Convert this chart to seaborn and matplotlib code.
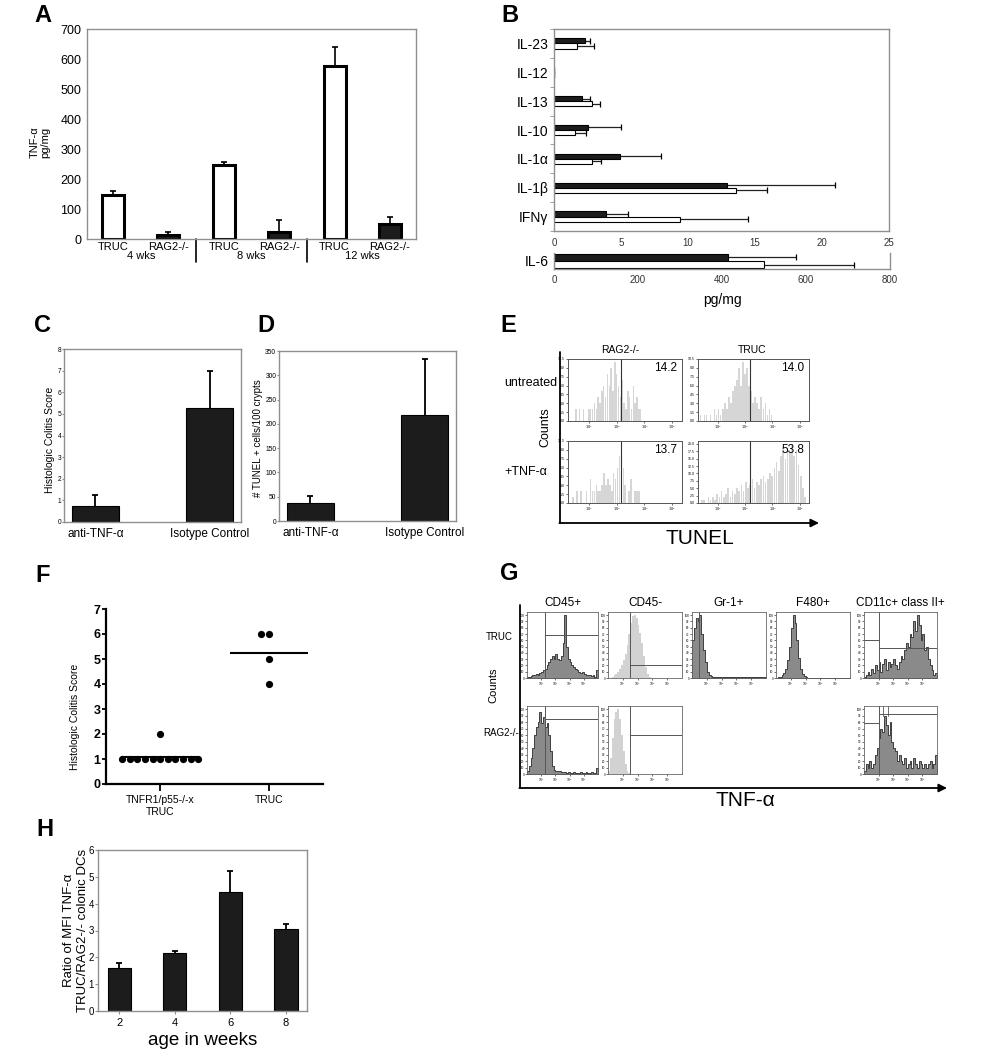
#!/usr/bin/env python3

import numpy as np
import pandas as pd
import matplotlib
matplotlib.use('Agg')
import matplotlib.pyplot as plt
import matplotlib.transforms as mtransforms
from matplotlib.ticker import MaxNLocator
import seaborn as sns

W, H = 982, 1050

# ---- A: colonic TNF-alpha by age
a_ages = ['4 wks', '8 wks', '12 wks']
a_genotypes = ['TRUC', 'RAG2-/-']
a_truc = [148, 248, 578]
a_truc_top = [160, 258, 640]
a_rag = [12, 25, 50]
a_rag_top = [22, 63, 75]

# ---- B: cytokines (pg/mg)
b_cytokines = ['IL-23', 'IL-12', 'IL-13', 'IL-10', 'IL-1α', 'IL-1β', 'IFNγ']
b_filled = [2.3, 0, 2.1, 2.5, 4.9, 12.9, 3.9]
b_filled_top = [2.7, 0, 2.7, 5.0, 8.0, 21.0, 5.5]
b_open = [1.7, 0, 2.8, 1.6, 2.8, 13.6, 9.4]
b_open_top = [3.0, 0, 3.4, 2.4, 3.5, 15.9, 14.5]
b_il6 = [415, 500]
b_il6_top = [575, 715]

# ---- C / D: anti-TNF treatment
cd_groups = ['anti-TNF-α', 'Isotype Control']
c_score = [0.75, 5.25]
c_top = [1.25, 7.0]
d_cells = [38, 218]
d_top = [52, 333]

# ---- E: TUNEL histograms (log10 units)
e_rag_untreated = [2, 0, 2, 0, 2, 0, 0, 2, 2, 2, 3, 2, 4, 3, 5, 6, 4, 8, 6, 9,
                   5, 10, 8, 6, 4, 7, 3, 2, 5, 4, 2, 6, 3, 4, 2, 2]
e_truc_untreated = [1, 0, 1, 1, 0, 1, 0, 2, 1, 2, 1, 2, 3, 2, 4, 3, 5, 6, 7, 9,
                    6, 10, 8, 9, 6, 5, 3, 4, 3, 2, 4, 2, 3, 1, 2, 1]
e_rag_tnf = [1, 0, 2, 0, 2, 0, 0, 2, 0, 4, 2, 2, 3, 2, 2, 3, 5, 3, 4, 3,
             2, 5, 4, 6, 8, 10, 6, 3, 0, 2, 4, 0, 2, 2, 2, 0]
e_truc_tnf = [1, 1, 0, 2, 1, 2, 1, 3, 2, 4, 2, 3, 5, 2, 4, 3, 5, 4, 6, 4, 7, 5,
              6, 8, 5, 7, 6, 8, 9, 7, 8, 10, 9, 12, 14, 11, 16, 19, 15, 18, 17, 20,
              16, 18, 13, 9, 5, 2]
e_ranges = [(1.5, 3.9), (1.3, 4.0), (1.4, 3.9), (1.35, 5.25)]
e_percent = ['14.2', '14.0', '13.7', '53.8']

# ---- F: colitis score per mouse
f_groups = ['TNFR1/p55-/-x\nTRUC', 'TRUC']
f_knockout = [2, 1, 1, 1, 1, 1, 1, 1, 1, 1, 1, 1]
f_truc = [6, 6, 5, 4]

# ---- G: TNF-alpha histograms (40 bins over 5 decades)
g_truc_cd45pos = [0.02, 0.02, 0.03, 0.04, 0.05, 0.06, 0.05, 0.08, 0.1, 0.12,
                  0.15, 0.2, 0.25, 0.3, 0.35, 0.3, 0.38, 0.3, 0.28, 0.35,
                  0.55, 1.0, 0.5, 0.3, 0.25, 0.2, 0.18, 0.15, 0.12, 0.1,
                  0.08, 0.1, 0.06, 0.05, 0.04, 0.05, 0.03, 0.04, 0.02, 0.12]
g_truc_cd45neg = [0, 0, 0.02, 0.04, 0.07, 0.1, 0.14, 0.2, 0.28, 0.38,
                  0.52, 0.7, 0.88, 0.98, 1.0, 0.95, 0.85, 0.72, 0.55, 0.35,
                  0.18, 0.07, 0.02, 0, 0, 0, 0, 0, 0, 0,
                  0, 0, 0, 0, 0, 0, 0, 0, 0, 0]
g_truc_gr1 = [0.6, 0.8, 0.95, 0.9, 1.0, 0.7, 0.45, 0.25, 0.1, 0.05,
              0.03, 0.02, 0.02, 0.01, 0.01, 0.01, 0.01, 0.01, 0.01, 0.01,
              0.01, 0.01, 0.01, 0.01, 0.01, 0.01, 0.01, 0.01, 0.01, 0.01,
              0.01, 0.01, 0.01, 0.01, 0.01, 0.01, 0.01, 0.01, 0.01, 0.01]
g_truc_f480 = [0, 0.01, 0.02, 0.04, 0.08, 0.15, 0.28, 0.5, 0.8, 1.0,
               0.88, 0.6, 0.32, 0.15, 0.06, 0.03, 0.01, 0, 0, 0,
               0, 0, 0, 0, 0, 0, 0, 0, 0, 0,
               0, 0, 0, 0, 0, 0, 0, 0, 0, 0]
g_truc_cd11c = [0.02, 0.05, 0.1, 0.05, 0.15, 0.08, 0.2, 0.12, 0.25, 0.1,
                0.22, 0.3, 0.12, 0.25, 0.18, 0.22, 0.3, 0.2, 0.15, 0.25,
                0.35, 0.3, 0.45, 0.55, 0.5, 0.7, 0.65, 0.9, 0.75, 1.0,
                0.85, 0.6, 0.7, 0.45, 0.5, 0.3, 0.2, 0.12, 0.05, 0.08]
g_rag_cd45pos = [0.05, 0.12, 0.25, 0.4, 0.6, 0.72, 0.8, 0.95, 0.78, 0.88,
                 0.72, 0.78, 0.6, 0.35, 0.12, 0.06, 0.05, 0.04, 0.04, 0.03,
                 0.03, 0.03, 0.02, 0.03, 0.02, 0.02, 0.03, 0.02, 0.02, 0.02,
                 0.03, 0.02, 0.02, 0.03, 0.02, 0.02, 0.03, 0.02, 0.02, 0.1]
g_rag_cd45neg = [0.05, 0.25, 0.55, 0.85, 0.95, 1.0, 0.85, 0.6, 0.35, 0.15,
                 0.05, 0.02, 0, 0, 0, 0, 0, 0, 0, 0,
                 0, 0, 0, 0, 0, 0, 0, 0, 0, 0,
                 0, 0, 0, 0, 0, 0, 0, 0, 0, 0]
g_rag_cd11c = [0.05, 0.15, 0.1, 0.2, 0.1, 0.15, 0.3, 0.4, 0.55, 0.7,
               0.65, 0.9, 0.75, 0.6, 0.8, 0.5, 0.4, 0.35, 0.2, 0.3,
               0.2, 0.15, 0.25, 0.1, 0.15, 0.2, 0.1, 0.25, 0.15, 0.1,
               0.2, 0.15, 0.1, 0.15, 0.1, 0.15, 0.2, 0.1, 0.15, 0.3]
g_titles = ['CD45+', 'CD45-', 'Gr-1+', 'F480+', 'CD11c+ class II+']

# ---- H: MFI ratio by age
h_weeks = ['2', '4', '6', '8']
h_ratio = [1.6, 2.18, 4.42, 3.05]
h_top = [1.78, 2.22, 5.2, 3.25]

sns.set_style('white')
plt.rcParams['font.family'] = ['Liberation Sans', 'DejaVu Sans']
for key in ('text.color', 'axes.labelcolor', 'xtick.color', 'ytick.color'):
    plt.rcParams[key] = 'black'
NARROW = ['Liberation Sans Narrow', 'Liberation Sans', 'DejaVu Sans']
FRAME = '#8f8f8f'
BLACK = '#1c1c1c'

fig = plt.figure(figsize=(W / 100, H / 100), dpi=100)


def px_axes(left, top, right, bottom):
    return fig.add_axes([left / W, 1 - bottom / H, (right - left) / W, (bottom - top) / H])


def frame(ax, color=FRAME, lw=1.0):
    for s in ax.spines.values():
        s.set_visible(True)
        s.set_color(color)
        s.set_linewidth(lw)


def vert_errors(ax, tops, lw=1.2, cap=5):
    # upper error bar only, one per bar, mapped by category position
    for p in ax.patches:
        xc = p.get_x() + p.get_width() / 2
        i = int(round(xc))
        top = tops[i]
        ax.vlines(xc, p.get_height(), top, color='black', lw=lw, zorder=1)
        ax.plot([xc], [top], marker='_', ms=cap, mew=lw, color='black', zorder=1)


def horiz_errors(ax, containers, tops_list, lw=0.9, cap=4):
    for cont, tops in zip(containers, tops_list):
        for bar, top in zip(cont, tops):
            yc = bar.get_y() + bar.get_height() / 2
            ax.hlines(yc, bar.get_width(), top, color='#222222', lw=lw, zorder=1)
            ax.plot([top], [yc], marker='|', ms=cap, mew=lw, color='black', zorder=1)


# ================= A =================
ax = px_axes(87, 29, 416, 239)
a_df = pd.DataFrame({
    'age': np.repeat(a_ages, 2),
    'genotype': a_genotypes * 3,
    'value': [v for pair in zip(a_truc, a_rag) for v in pair],
    'top': [v for pair in zip(a_truc_top, a_rag_top) for v in pair],
})
a_df['bar'] = a_df['genotype'] + ' ' + a_df['age']
sns.barplot(data=a_df, x='bar', y='value', hue='genotype', order=list(a_df['bar']),
            palette={'TRUC': 'white', 'RAG2-/-': BLACK}, dodge=False, width=0.4,
            edgecolor='black', linewidth=2.2, saturation=1, legend=False, ax=ax)
vert_errors(ax, list(a_df['top']))
for p in ax.patches:
    p.set_zorder(2)
ax.set_ylim(0, 700)
ax.set_yticks(range(0, 701, 100))
ax.set_xticks(range(6))
ax.set_xticklabels(list(a_df['genotype']), fontsize=8)
ax.tick_params(axis='x', length=0, pad=2)
ax.tick_params(axis='y', length=0, pad=4, labelsize=9)
ax.set_xlabel('')
ax.set_ylabel('')
frame(ax)
trans = mtransforms.blended_transform_factory(ax.transData, ax.transAxes)
for i, age in enumerate(a_ages):
    ax.text(2 * i + 0.5, -0.082, age, transform=trans, ha='center', va='center', fontsize=8)
for xs in (1.5, 3.5):
    ax.plot([xs, xs], [0, -0.11], transform=trans, color='black', lw=1.2, clip_on=False)

# ================= B =================
ax = px_axes(554, 29, 889, 231)
b_df = pd.DataFrame({'cytokine': b_cytokines * 2,
                     'series': ['filled'] * len(b_cytokines) + ['open'] * len(b_cytokines),
                     'value': b_filled + b_open})
sns.barplot(data=b_df, y='cytokine', x='value', hue='series', order=b_cytokines, orient='h',
            palette={'filled': BLACK, 'open': 'white'}, width=0.36, edgecolor='black',
            linewidth=0.8, saturation=1, legend=False, ax=ax)
horiz_errors(ax, ax.containers, [b_filled_top, b_open_top])
for p in ax.patches:
    p.set_zorder(2)
ax.set_xlim(0, 25)
ax.set_ylim(6.29, -0.23)
ax.set_xticks(range(0, 26, 5))
ax.set_yticks(range(len(b_cytokines)))
ax.set_yticklabels(b_cytokines, fontsize=10)
ax.set_yticks(np.arange(-0.5, 6.6, 1), minor=True)
ax.tick_params(axis='y', which='major', length=0, pad=4)
ax.tick_params(axis='y', which='minor', length=3, color=FRAME, left=True)
ax.tick_params(axis='x', length=0, pad=5, labelsize=7, colors='#333333')
ax.set_xlabel('')
ax.set_ylabel('')
frame(ax)

ax = px_axes(554, 253, 890, 269)
sns.barplot(y=['IL-6', 'IL-6'], x=b_il6, hue=['filled', 'open'], orient='h',
            palette={'filled': BLACK, 'open': 'white'}, width=0.75, edgecolor='black',
            linewidth=0.8, saturation=1, legend=False, ax=ax)
horiz_errors(ax, ax.containers, [[b_il6_top[0]], [b_il6_top[1]]])
for p in ax.patches:
    p.set_zorder(2)
ax.set_xlim(0, 800)
ax.set_xticks(range(0, 801, 200))
ax.tick_params(axis='x', length=0, pad=4, labelsize=7, colors='#333333')
ax.tick_params(axis='y', length=0, pad=4, labelsize=10)
ax.set_xlabel('pg/mg', fontsize=10, labelpad=6)
ax.set_ylabel('')
frame(ax)
ax.spines['top'].set_visible(False)


# ================= C / D =================
def treat_panel(box, values, tops, ymax, step):
    ax = px_axes(*box)
    sns.barplot(x=cd_groups, y=values, color=BLACK, saturation=1, width=0.41,
                edgecolor='black', linewidth=0.8, ax=ax)
    vert_errors(ax, tops, lw=1.3, cap=4)
    for p in ax.patches:
        p.set_zorder(2)
    ax.set_ylim(0, ymax)
    ax.set_yticks(np.arange(0, ymax + 1, step))
    for lab in ax.get_yticklabels():
        lab.set_family(NARROW)
        lab.set_fontsize(4.8)
    ax.tick_params(axis='y', length=1.5, pad=0.5, left=True, color=FRAME)
    ax.tick_params(axis='x', length=0, pad=4, labelsize=8.5)
    frame(ax)
    return ax


treat_panel((64, 349, 241, 522), c_score, c_top, 8, 1)
treat_panel((279, 351, 456, 521), d_cells, d_top, 350, 50)

# ================= E =================
e_boxes = [(568, 359, 682, 421), (698, 359, 809, 421), (568, 441, 682, 503), (698, 441, 809, 503)]
e_data = [e_rag_untreated, e_truc_untreated, e_rag_tnf, e_truc_tnf]
for box, heights, (lo, hi), pct in zip(e_boxes, e_data, e_ranges, e_percent):
    ax = px_axes(*box)
    n = len(heights)
    centers = lo + (np.arange(n) + 0.5) * (hi - lo) / n
    sns.histplot(x=centers, weights=heights, bins=n, binrange=(lo, hi), element='bars',
                 shrink=0.8, color='#d6d6d6', alpha=1, linewidth=0, ax=ax)
    ax.set_xlim(1.25, 5.35)
    ax.set_ylim(0, max(heights) * 1.05)
    ax.axvline(3.16, color='#333333', lw=0.8)
    ax.set_xticks([2, 3, 4, 5])
    ax.set_xticklabels(['$10^2$', '$10^3$', '$10^4$', '$10^5$'])
    ax.yaxis.set_major_locator(MaxNLocator(9))
    ax.tick_params(labelsize=2.5, length=1.5, width=0.4, pad=0.5, left=True, bottom=True)
    ax.set_xlabel('')
    ax.set_ylabel('')
    frame(ax, '#555555', 0.7)
    ax.text(0.96, 0.95, pct, transform=ax.transAxes, ha='right', va='top', fontsize=8.5)

# ================= F =================
ax = px_axes(106, 609, 323, 784)
f_df = pd.DataFrame({'group': [f_groups[0]] * len(f_knockout) + [f_groups[1]] * len(f_truc),
                     'score': f_knockout + f_truc})
sns.swarmplot(data=f_df, x='group', y='score', order=f_groups, color='black', size=5.2, ax=ax)
for i, vals in enumerate([f_knockout, f_truc]):
    ax.hlines(np.mean(vals), i - 0.36, i + 0.36, color='black', lw=1.5)
ax.set_xlim(-0.5, 1.5)
ax.set_ylim(0, 7)
ax.set_yticks(range(0, 8))
sns.despine(ax=ax)
for s in ('left', 'bottom'):
    ax.spines[s].set_linewidth(1.6)
    ax.spines[s].set_color('black')
ax.tick_params(axis='y', length=3, width=1.3, pad=1, labelsize=9, left=True)
for lab in ax.get_yticklabels():
    lab.set_fontweight('bold')
ax.tick_params(axis='x', length=5, width=1.3, pad=3, bottom=True)
for lab in ax.get_xticklabels():
    lab.set_family(NARROW)
    lab.set_fontsize(7.5)
ax.set_xlabel('')
ax.set_ylabel('')

# ================= G =================
g_cols = [(527, 598), (608, 682), (692, 766), (776, 850), (864, 937)]
g_top_row = [g_truc_cd45pos, g_truc_cd45neg, g_truc_gr1, g_truc_f480, g_truc_cd11c]
g_bottom_row = {0: g_rag_cd45pos, 1: g_rag_cd45neg, 4: g_rag_cd11c}
# gates: (vertical x, horizontal y fraction) per column and row
g_gates_top = [(1.27, 0.68), (1.5, 0.2), (0.45, None), (None, None), (1.03, 0.47)]
g_gates_bottom = {0: (1.27, 0.85), 1: (1.5, 0.6), 4: (1.0, 0.92)}


def g_hist(box, heights, gate, light=False):
    ax = px_axes(*box)
    n = len(heights)
    centers = (np.arange(n) + 0.5) * 5 / n
    if light:
        sns.histplot(x=centers, weights=heights, bins=n, binrange=(0, 5), element='step',
                     fill=True, color='#d2d2d2', alpha=1, linewidth=0, ax=ax)
    else:
        sns.histplot(x=centers, weights=heights, bins=n, binrange=(0, 5), element='step',
                     fill=True, color='#8a8a8a', alpha=1, edgecolor='#2a2a2a', linewidth=0.6, ax=ax)
    ax.set_xlim(0, 5)
    ax.set_ylim(0, 1.05)
    gx, gy = gate
    if gx is not None:
        ax.axvline(gx, color='#555555', lw=0.7)
        if gy is not None:
            ax.axhline(gy, xmin=gx / 5, xmax=1, color='#555555', lw=0.7)
    ax.set_xticks([1, 2, 3, 4])
    ax.set_xticklabels(['$10^1$', '$10^2$', '$10^3$', '$10^4$'])
    ax.set_yticks(np.arange(0, 1.01, 0.1))
    ax.set_yticklabels([f'{int(v * 100)}' for v in np.arange(0, 1.01, 0.1)])
    ax.tick_params(labelsize=2.2, length=1.5, width=0.4, pad=0.5, left=True, bottom=True)
    ax.set_xlabel('')
    ax.set_ylabel('')
    frame(ax, '#666666', 0.6)
    return ax


for j, (x0, x1) in enumerate(g_cols):
    ax = g_hist((x0, 612, x1, 678), g_top_row[j], g_gates_top[j], light=(j == 1))
    if j == 4:
        ax.plot([0, 1.03], [0.6, 0.6], color='#555555', lw=0.7)
for j, heights in g_bottom_row.items():
    x0, x1 = g_cols[j]
    ax = g_hist((x0, 706, x1, 774), heights, g_gates_bottom[j], light=(j == 1))
    if j == 4:
        ax.plot([0, 1.0], [0.78, 0.78], color='#555555', lw=0.7)
        ax.axvline(1.3, ymin=0.85, color='#555555', lw=0.6)
        ax.axvline(1.65, ymin=0.85, color='#555555', lw=0.6)

# ================= H =================
ax = px_axes(98, 850, 307, 1011)
sns.barplot(x=h_weeks, y=h_ratio, color=BLACK, saturation=1, width=0.42,
            edgecolor='black', linewidth=0.8, ax=ax)
vert_errors(ax, h_top, lw=1.3, cap=4)
for p in ax.patches:
    p.set_zorder(2)
ax.set_ylim(0, 6)
ax.set_yticks(range(0, 7))
for lab in ax.get_yticklabels():
    lab.set_family(NARROW)
    lab.set_fontsize(7)
ax.tick_params(axis='y', length=2, pad=1, left=True, color=FRAME)
ax.tick_params(axis='x', length=2, pad=3, labelsize=8, bottom=True, color=FRAME)
ax.set_xlabel('age in weeks', fontsize=13.5, labelpad=3)
frame(ax)

# ================= overlay: letters, labels, arrows =================
ov = fig.add_axes([0, 0, 1, 1])
ov.set_xlim(0, W)
ov.set_ylim(H, 0)
ov.set_axis_off()
ov.set_zorder(10)

for letter, (x, y) in {'A': (43, 16), 'B': (510, 15), 'C': (43, 326), 'D': (266, 326),
                       'E': (508, 326), 'F': (43, 575), 'G': (509, 573), 'H': (45, 829)}.items():
    ov.text(x, y, letter, fontsize=17, fontweight='bold', ha='center', va='center')

ov.text(40, 142, 'TNF-α\npg/mg', rotation=90, fontsize=8, ha='center', va='center', linespacing=1.1)
ov.text(50, 440, 'Histologic Colitis Score', rotation=90, fontsize=7.5, family=NARROW,
        ha='center', va='center')
ov.text(258, 438, '# TUNEL + cells/100 crypts', rotation=90, fontsize=7, family=NARROW,
        ha='center', va='center')
ov.text(75, 717, 'Histologic Colitis Score', rotation=90, fontsize=7.5, family=NARROW,
        ha='center', va='center')
ov.text(76, 930, 'Ratio of MFI TNF-α\nTRUC/RAG2-/- colonic DCs', rotation=90, fontsize=9.5,
        ha='center', va='center', linespacing=1.2)

# E labels and axis arrow
ov.text(620, 350, 'RAG2-/-', fontsize=7.5, ha='center', va='center')
ov.text(752, 350, 'TRUC', fontsize=7.5, ha='center', va='center')
ov.text(531, 383, 'untreated', fontsize=9, ha='center', va='center')
ov.text(526, 472, '+TNF-α', fontsize=9, ha='center', va='center')
ov.text(545, 427, 'Counts', fontsize=9, rotation=90, ha='center', va='center')
ov.text(700, 539, 'TUNEL', fontsize=15, ha='center', va='center')
ov.plot([560, 560], [352, 523], color='black', lw=1.3)
ov.annotate('', xy=(819, 523), xytext=(559.4, 523),
            arrowprops=dict(arrowstyle='-|>', color='black', lw=1.3, mutation_scale=12,
                            shrinkA=0, shrinkB=0))

# G labels and axis arrow
for (x0, x1), title in zip(g_cols, g_titles):
    ov.text((x0 + x1) / 2, 603, title, fontsize=8.5, ha='center', va='center')
ov.text(499, 637, 'TRUC', fontsize=7, ha='center', va='center')
ov.text(501, 733, 'RAG2-/-', fontsize=7, ha='center', va='center')
ov.text(493, 685, 'Counts', fontsize=8, rotation=90, ha='center', va='center')
ov.text(745, 801, 'TNF-α', fontsize=15, ha='center', va='center')
ov.plot([520, 520], [605, 788], color='black', lw=1.3)
ov.annotate('', xy=(947, 788), xytext=(519.4, 788),
            arrowprops=dict(arrowstyle='-|>', color='black', lw=1.3, mutation_scale=12,
                            shrinkA=0, shrinkB=0))

plt.savefig('out.png', dpi=100)
